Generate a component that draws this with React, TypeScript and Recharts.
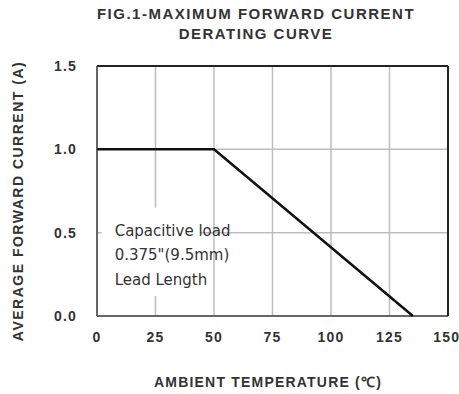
import React from "react";
import {
  LineChart,
  Line,
  XAxis,
  YAxis,
  CartesianGrid,
  ReferenceLine,
  ReferenceArea,
} from "recharts";

const temperatures = [0, 50, 135];
const currents = [1.0, 1.0, 0.0];
const xTicks = [0, 25, 50, 75, 100, 125, 150];
const yTicks = [0, 0.5, 1.0, 1.5];
const titleLines = ["FIG.1-MAXIMUM FORWARD CURRENT", "DERATING CURVE"];
const xLabel = "AMBIENT TEMPERATURE (\u2103)";
const yLabel = "AVERAGE FORWARD CURRENT (A)";
const noteLines = ["Capacitive load", "0.375\"(9.5mm)", "Lead Length"];

const data = temperatures.map((t, i) => ({ t, i: currents[i] }));

const W = 459;
const H = 394;
const labelFont = "'Liberation Sans', Arial, sans-serif";

const NoteLabel = (props: any) => {
  const vb = props.viewBox || {};
  const x = vb.x + 13;
  const y0 = vb.y + 28;
  return (
    <text
      x={x}
      y={y0}
      fontFamily="'DejaVu Sans', sans-serif"
      fontSize={15}
      fill="#333"
    >
      {noteLines.map((l, k) => (
        <tspan key={k} x={x} y={y0 + k * 24.5}>
          {l}
        </tspan>
      ))}
    </text>
  );
};

const tickStyle = {
  fontSize: 14,
  fontWeight: 700,
  fill: "#333",
  fontFamily: labelFont,
  letterSpacing: 1.2,
} as any;

export default function App() {
  return (
    <div style={{ position: "absolute", left: 0, top: 0, width: W, height: H, background: "#fff" }}>
      <LineChart
        width={W}
        height={H}
        data={data}
        margin={{ top: 66, right: 11, left: 0, bottom: 0 }}
      >
        <CartesianGrid
          stroke="#bdbdbd"
          strokeWidth={1.5}
          verticalValues={xTicks}
          horizontalValues={yTicks}
        />
        <XAxis
          dataKey="t"
          type="number"
          domain={[0, 150]}
          ticks={xTicks}
          height={78}
          tickSize={0}
          tickMargin={16}
          axisLine={false}
          tick={tickStyle}
        />
        <YAxis
          type="number"
          domain={[0, 1.5]}
          ticks={yTicks}
          width={97}
          tickSize={0}
          tickMargin={20}
          axisLine={false}
          tickFormatter={(v: number) => v.toFixed(1)}
          tick={tickStyle}
        />
        <ReferenceArea
          x1={2}
          x2={44}
          y1={0.12}
          y2={0.65}
          fill="#fff"
          fillOpacity={1}
          stroke="none"
          ifOverflow="visible"
          label={<NoteLabel />}
        />
        <ReferenceLine x={0} stroke="#666" strokeWidth={2} ifOverflow="visible" />
        <ReferenceLine y={0} stroke="#666" strokeWidth={2} ifOverflow="visible" />
        <ReferenceLine y={1.5} stroke="#222" strokeWidth={2} ifOverflow="visible" />
        <ReferenceLine x={150} stroke="#222" strokeWidth={2} ifOverflow="visible" />
        <Line
          dataKey="i"
          stroke="#111"
          strokeWidth={2.5}
          dot={false}
          isAnimationActive={false}
        />
      </LineChart>
      <svg
        width={W}
        height={H}
        style={{ position: "absolute", left: 0, top: 0, pointerEvents: "none" }}
      >
        {titleLines.map((l, k) => (
          <text
            key={k}
            x={256}
            y={19 + k * 19.5}
            textAnchor="middle"
            fontFamily={labelFont}
            fontWeight={700}
            fontSize={15}
            letterSpacing={1.5}
            fill="#333"
          >
            {l}
          </text>
        ))}
        <text
          x={268}
          y={387}
          textAnchor="middle"
          fontFamily={labelFont}
          fontWeight={700}
          fontSize={14}
          letterSpacing={1.2}
          fill="#333"
        >
          {xLabel}
        </text>
        <text
          transform="translate(23,201) rotate(-90)"
          textAnchor="middle"
          fontFamily={labelFont}
          fontWeight={700}
          fontSize={14}
          letterSpacing={1.5}
          fill="#333"
        >
          {yLabel}
        </text>
      </svg>
    </div>
  );
}
